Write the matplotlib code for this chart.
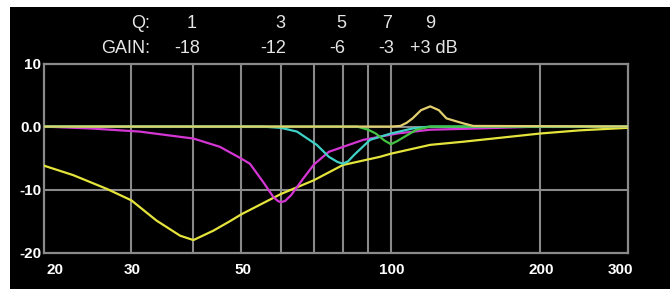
import matplotlib
matplotlib.use("Agg")
import matplotlib.pyplot as plt
from matplotlib import font_manager, transforms
from matplotlib.patches import Rectangle

# ---------------- data ----------------
freq_q1 = [20, 22.9, 26.8, 30, 33.7, 37.6, 40, 43.9, 47.4, 50, 60, 70, 80, 95, 100, 120, 140, 200, 240, 300]
gain_q1 = [-6.2, -7.7, -9.9, -11.7, -14.9, -17.3, -18.0, -16.5, -15.0, -13.9, -10.7, -8.5, -6.1, -4.8, -4.3, -2.9, -2.4, -1.1, -0.6, -0.2]

freq_q3 = [20, 24.8, 31.2, 40, 45.2, 50, 52, 55.3, 58, 59.2, 60, 61.2, 62.9, 66.5, 70, 75, 88, 103, 120, 150, 200, 300]
gain_q3 = [0, -0.3, -0.8, -1.9, -3.2, -5.1, -5.9, -8.8, -11.2, -11.8, -12.0, -11.8, -10.9, -8.3, -6.0, -4.0, -2.1, -1.1, -0.5, -0.3, 0, 0]

freq_q5 = [20, 55, 60, 64.7, 70.9, 75, 78, 80, 82, 84.3, 90.8, 100, 110.6, 120, 300]
gain_q5 = [0, 0, -0.2, -0.8, -2.9, -4.8, -5.6, -5.9, -5.5, -4.5, -2.1, -1.1, -0.3, 0, 0]

freq_q7 = [20, 85.5, 90, 93.2, 97, 100, 103, 106.6, 112.6, 120, 300]
gain_q7 = [0, 0, -0.5, -1.1, -2.2, -2.8, -2.3, -1.6, -0.5, 0, 0]

freq_q9 = [20, 100, 104.5, 107.6, 110.6, 115, 120, 124.9, 129.4, 134.5, 140, 146.5, 300]
gain_q9 = [0, 0, 0.1, 0.6, 1.3, 2.6, 3.2, 2.6, 1.3, 0.9, 0.5, 0.1, 0]

header_freqs = [40, 60, 80, 100, 120]
q_labels = ["1", "3", "5", "7", "9"]
gain_labels = ["-18", "-12", "-6", "-3", "+3 dB"]

x_ticks = [20, 30, 50, 100, 200, 300]
x_tick_labels = ["20", "30", "50", "100", "200", "300"]
x_grid = [30, 40, 50, 60, 70, 80, 90, 100, 200]
y_ticks = [10, 0, -10, -20]
y_tick_labels = ["10", "0.0", "-10", "-20"]

# ---------------- style ----------------
def pick_font(names):
    for n in names:
        try:
            font_manager.findfont(font_manager.FontProperties(family=n), fallback_to_default=False)
            return n
        except Exception:
            pass
    return "DejaVu Sans"

narrow = pick_font(["Liberation Sans Narrow", "Liberation Sans"])
sans = pick_font(["Liberation Sans", "DejaVu Sans"])

W, H = 670, 289
fig = plt.figure(figsize=(W / 100, H / 100), dpi=100, facecolor="white")
# black panel (white strip on top and left edges)
fig.patches.append(Rectangle((10 / W, 0), 1 - 10 / W, 1 - 7 / H, transform=fig.transFigure,
                             facecolor="black", edgecolor="none", zorder=-10))

L, R, B, T = 44 / W, 627.7 / W, 1 - 252.7 / H, 1 - 63.5 / H
ax = fig.add_axes([L, B, R - L, T - B])
ax.set_zorder(5)
ax.set_facecolor("black")
ax.set_xscale("log")
ax.set_xlim(20, 300)
ax.set_ylim(-20, 10)

grid_c = "#8a8a8a"
for f in x_grid:
    ax.axvline(f, color=grid_c, lw=1.5, zorder=1)
for g in [0, -10]:
    ax.axhline(g, color=grid_c, lw=1.5, zorder=1)
for s in ax.spines.values():
    s.set_color(grid_c)
    s.set_linewidth(1.6)

lw = 1.6
ax.plot(freq_q1, gain_q1, color="#e4e43c", lw=lw, zorder=3)
ax.plot(freq_q3, gain_q3, color="#d436d4", lw=lw, zorder=4)
ax.plot(freq_q5, gain_q5, color="#3fd2c8", lw=lw, zorder=5)
ax.plot(freq_q7, gain_q7, color="#44c244", lw=lw, zorder=6)
ax.plot(freq_q9, gain_q9, color="#e2d070", lw=lw, zorder=7)

ax.minorticks_off()
ax.set_xticks([])
ax.set_yticks(y_ticks)
ax.set_yticklabels(y_tick_labels)
ax.tick_params(axis="y", length=0, pad=2, colors="white", labelsize=11)
for lab in ax.get_yticklabels():
    lab.set_fontfamily(sans)
    lab.set_fontweight("bold")

# x tick labels drawn with data coordinates
x_off = {0: 11, 5: -7.5}
for i, (f, t) in enumerate(zip(x_ticks, x_tick_labels)):
    tr = ax.get_xaxis_transform() + transforms.ScaledTranslation(x_off.get(i, 1) / 100, -17.5 / 100, fig.dpi_scale_trans)
    ax.text(f, 0, t, transform=tr, ha="center", va="center", color="white",
            fontsize=11, fontweight="bold", family=sans, clip_on=False)

# header rows
hc = "#e6e6e6"
hfs = 13
fig.text(150 / W, 1 - 23.3 / H, "Q:", ha="right", va="center", color=hc, fontsize=hfs, family=narrow)
fig.text(150 / W, 1 - 48.3 / H, "GAIN:", ha="right", va="center", color=hc, fontsize=hfs, family=narrow)
blend = transforms.blended_transform_factory(ax.transData, fig.transFigure)
q_off = [-1.7, -0.8, -1, -3.6, 0]
g_off = [-6.7, -7.8, -5.5, -4.5, 4]
for f, q, g, qo, go in zip(header_freqs, q_labels, gain_labels, q_off, g_off):
    fig.text(f, 1 - 23.3 / H, q, transform=blend + transforms.ScaledTranslation(qo / 100, 0, fig.dpi_scale_trans),
             ha="center", va="center", color=hc, fontsize=hfs, family=narrow)
    fig.text(f, 1 - 48.3 / H, g, transform=blend + transforms.ScaledTranslation(go / 100, 0, fig.dpi_scale_trans),
             ha="center", va="center", color=hc, fontsize=hfs, family=narrow)

fig.savefig("out.png", dpi=100, facecolor="white")
